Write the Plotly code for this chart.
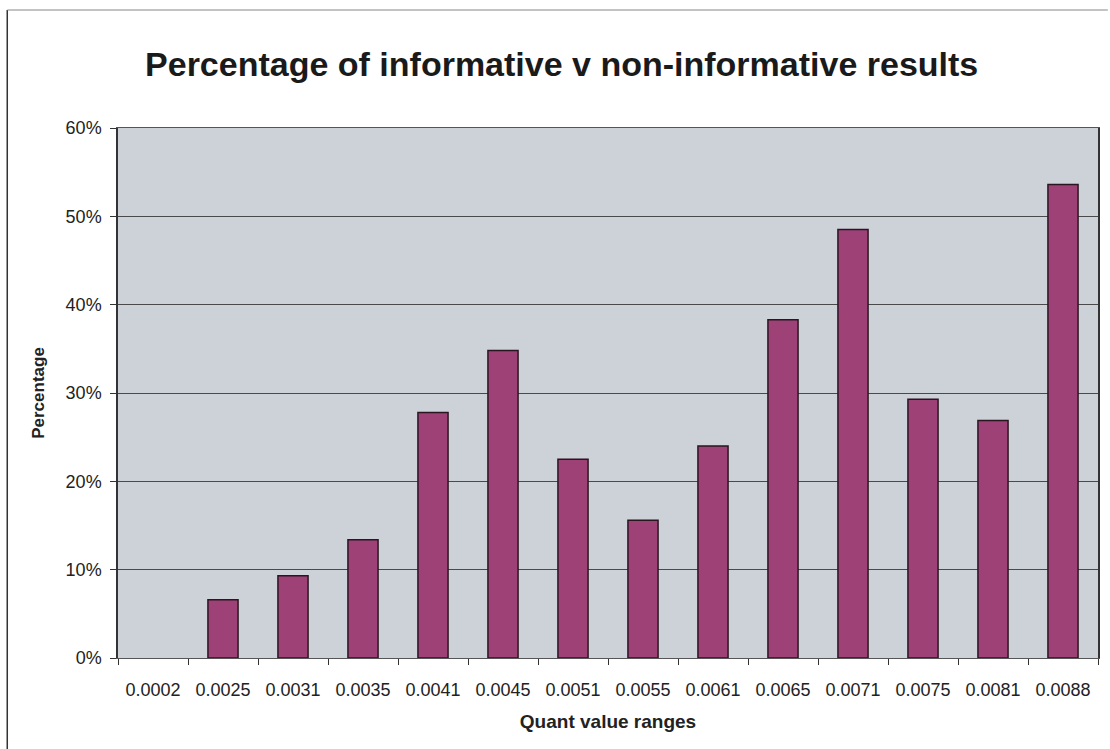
import plotly.graph_objects as go

# Quant value range labels and the share of informative results in each
quant_ranges = ["0.0002", "0.0025", "0.0031", "0.0035", "0.0041", "0.0045", "0.0051",
                "0.0055", "0.0061", "0.0065", "0.0071", "0.0075", "0.0081", "0.0088"]
percentages = [0.0, 6.6, 9.3, 13.4, 27.8, 34.8, 22.5,
               15.6, 24.0, 38.3, 48.5, 29.3, 26.9, 53.6]
y_ticks = [0, 10, 20, 30, 40, 50, 60]

FONT = "Liberation Sans, Arial, sans-serif"

fig = go.Figure(
    go.Bar(
        x=quant_ranges,
        y=percentages,
        marker=dict(
            color="#9d4177",
            line=dict(color="#2a1520", width=[0 if v == 0 else 1.5 for v in percentages]),
        ),
        hoverinfo="x+y",
    )
)

fig.update_layout(
    width=1110,
    height=749,
    margin=dict(l=118, r=10, t=128, b=91),
    paper_bgcolor="white",
    plot_bgcolor="#cdd1d8",
    bargap=0.57,
    showlegend=False,
    font=dict(family=FONT, color="#222222", size=18),
    title=dict(
        text="<b>Percentage of informative v non-informative results</b>",
        x=0.506, xref="container", xanchor="center",
        y=0.915, yanchor="middle",
        font=dict(family=FONT, size=34, color="#1a1a1a"),
    ),
    shapes=[
        # outer chart frame
        dict(type="line", xref="paper", yref="paper", x0=-0.113, x1=-0.113,
             y0=-0.2, y1=1.2226, line=dict(color="#333333", width=1.5)),
        dict(type="line", xref="paper", yref="paper", x0=-0.113, x1=1.01,
             y0=1.2226, y1=1.2226, line=dict(color="#888888", width=1.2)),
    ],
)

fig.update_xaxes(
    type="category",
    tickson="boundaries",
    ticks="outside",
    ticklen=6,
    tickcolor="#333333",
    showline=True,
    linecolor="#555555",
    linewidth=1.2,
    mirror=True,
    showgrid=False,
    ticklabelstandoff=15,
    tickfont=dict(family=FONT, size=18, color="#222222"),
    title=dict(text="<b>Quant value ranges</b>", font=dict(family=FONT, size=19, color="#222222"),
               standoff=15),
)

fig.update_yaxes(
    range=[0, 60],
    tickvals=y_ticks,
    ticktext=[f"{v}%" for v in y_ticks],
    ticks="outside",
    ticklen=6,
    tickcolor="#333333",
    showline=True,
    linecolor="#333333",
    linewidth=1.5,
    mirror=True,
    showgrid=True,
    gridcolor="#4a4a4a",
    gridwidth=1,
    zeroline=False,
    ticklabelstandoff=5,
    tickfont=dict(family=FONT, size=18, color="#222222"),
    title=dict(text="<b>Percentage</b>", font=dict(family=FONT, size=17, color="#222222"), standoff=17),
)

fig.write_html("out.html")
